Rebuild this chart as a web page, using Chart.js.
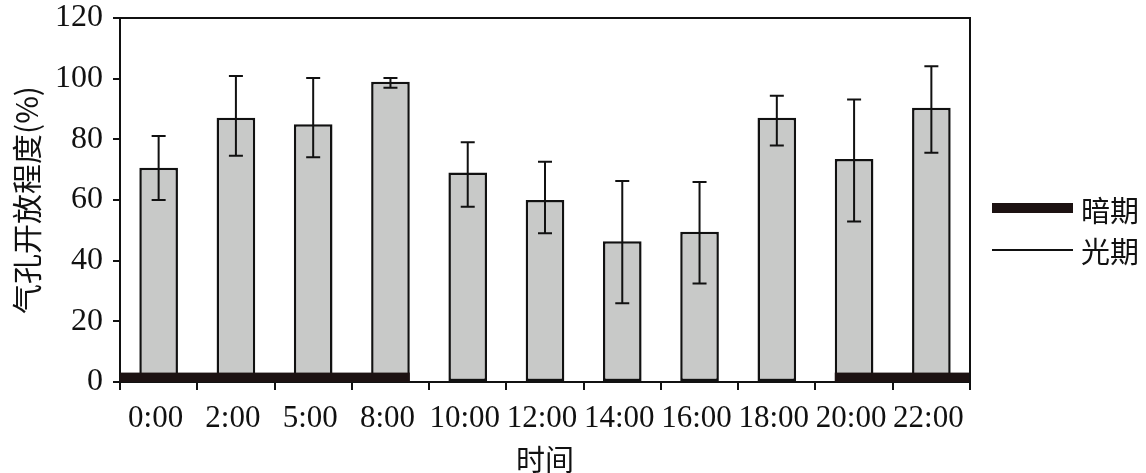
<!DOCTYPE html>
<html>
<head>
<meta charset="utf-8">
<script src="https://cdn.jsdelivr.net/npm/chart.js@4/dist/chart.umd.min.js"></script>
<style>
html,body{margin:0;padding:0;background:#fff;}
#wrap{width:1146px;height:473px;}
</style>
</head>
<body>
<div id="wrap"><canvas id="c" width="1146" height="473"></canvas></div>
<script>
// ---- data ----
const categories = ["0:00","2:00","5:00","8:00","10:00","12:00","14:00","16:00","18:00","20:00","22:00"];
const openness   = [70.6, 87.1, 85.0, 99.0, 69.1, 60.0, 46.4, 49.5, 87.1, 73.5, 90.4];
const errHigh    = [81.1, 100.9, 100.2, 100.2, 79.0, 72.6, 66.3, 65.9, 94.4, 93.1, 104.1];
const errLow     = [60.0, 74.6, 74.1, 97.0, 57.8, 49.0, 26.0, 32.5, 78.0, 52.9, 75.6];
const yTicks     = [0, 20, 40, 60, 80, 100, 120];
// dark periods in category-index units
const darkStart  = [-0.5, 8.75];
const darkEnd    = [3.25, 10.5];
const darkHeight = 3.1;
const legendLabels = ["暗期", "光期"];

const CJK = "'Noto Sans CJK SC', 'Noto Sans', sans-serif";
const SERIF = "'Liberation Serif', 'DejaVu Serif', serif";

const overlay = {
  id: 'overlay',
  afterDatasetsDraw(chart) {
    const ctx = chart.ctx;
    const xs = chart.scales.x, ys = chart.scales.y;
    const meta = chart.getDatasetMeta(0);
    ctx.save();
    // error bars
    ctx.strokeStyle = '#111';
    ctx.lineWidth = 2;
    meta.data.forEach((bar, i) => {
      const x = bar.x;
      const yh = ys.getPixelForValue(errHigh[i]);
      const yl = ys.getPixelForValue(errLow[i]);
      ctx.beginPath();
      ctx.moveTo(x, yh); ctx.lineTo(x, yl);
      ctx.moveTo(x - 7, yh); ctx.lineTo(x + 7, yh);
      ctx.moveTo(x - 7, yl); ctx.lineTo(x + 7, yl);
      ctx.stroke();
    });
    // dark periods
    ctx.fillStyle = '#1c1212';
    const step = xs.getPixelForValue(1) - xs.getPixelForValue(0);
    const x0p = xs.getPixelForValue(0);
    const y0 = ys.getPixelForValue(0);
    const yd = ys.getPixelForValue(darkHeight);
    darkStart.forEach((s, k) => {
      const a = x0p + s * step, b = x0p + darkEnd[k] * step;
      ctx.fillRect(a, yd, b - a, y0 - yd);
    });
    // frame top & right
    const ca = chart.chartArea;
    ctx.strokeStyle = '#111';
    ctx.lineWidth = 2;
    ctx.beginPath();
    ctx.moveTo(ca.left, ca.top); ctx.lineTo(ca.right, ca.top); ctx.lineTo(ca.right, ca.bottom);
    ctx.stroke();
    // legend
    const lx = ca.right + 22;
    ctx.fillStyle = '#1c1212';
    ctx.fillRect(lx, 203, 81, 10);
    ctx.beginPath();
    ctx.lineWidth = 2;
    ctx.moveTo(lx, 250); ctx.lineTo(lx + 81, 250);
    ctx.stroke();
    ctx.fillStyle = '#111';
    ctx.font = "29px " + CJK;
    ctx.textBaseline = 'middle';
    ctx.textAlign = 'left';
    ctx.fillText(legendLabels[0], lx + 89, 211);
    ctx.fillText(legendLabels[1], lx + 89, 252);
    ctx.restore();
  }
};

new Chart(document.getElementById('c'), {
  type: 'bar',
  data: {
    labels: categories,
    datasets: [{
      data: openness,
      backgroundColor: '#c8c9c8',
      borderColor: '#111',
      borderWidth: 2.5,
      borderSkipped: false,
      barPercentage: 0.5,
      categoryPercentage: 1.0
    }]
  },
  options: {
    responsive: false,
    animation: false,
    layout: { padding: { left: 0, right: 176, top: 18, bottom: 0 } },
    plugins: { legend: { display: false }, tooltip: { enabled: false } },
    scales: {
      x: {
        offset: true,
        grid: { offset: true, drawOnChartArea: false, color: '#111', lineWidth: 2, tickLength: 8 },
        border: { display: true, color: '#111', width: 2 },
        ticks: { color: '#111', font: { family: SERIF, size: 31, lineHeight: 1 }, padding: 13, labelOffset: -3, maxRotation: 0, autoSkip: false },
        title: { display: true, text: '时间', color: '#111', font: { family: CJK, size: 29, lineHeight: 0.9 }, padding: { top: 0, bottom: 0 } },
        afterFit(s) { s.height = 91; }
      },
      y: {
        min: 0, max: 120,
        afterBuildTicks(s) { s.ticks = yTicks.map(v => ({ value: v })); },
        grid: { drawOnChartArea: false, color: '#111', lineWidth: 2, tickLength: 7 },
        border: { display: true, color: '#111', width: 2 },
        ticks: { color: '#111', font: { family: SERIF, size: 32, lineHeight: 0.25 }, padding: 10 },
        title: { display: true, text: '气孔开放程度(%)', color: '#111', font: { family: CJK, size: 30, lineHeight: 1.2 }, padding: { top: 9, bottom: 0 } },
        afterFit(s) { s.width = 120; }
      }
    }
  },
  plugins: [overlay]
});
</script>
</body>
</html>
